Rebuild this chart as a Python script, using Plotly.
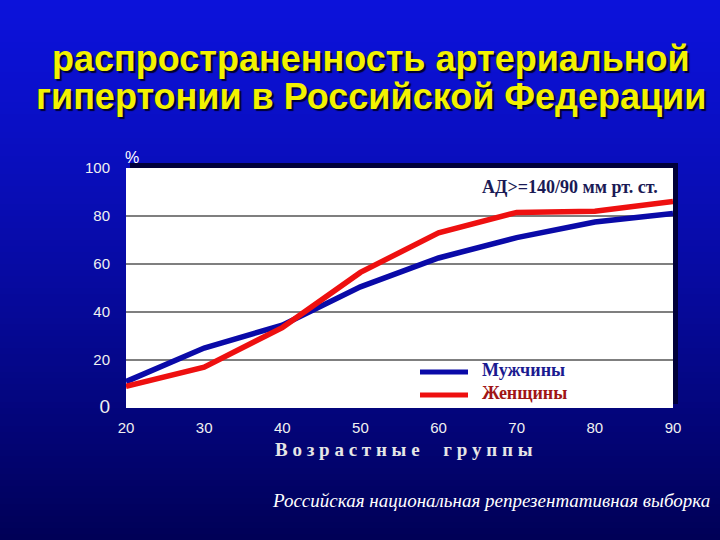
import plotly.graph_objects as go

# ---- data ----
age_groups = [20, 30, 40, 50, 60, 70, 80, 90]
men = [11, 25, 34.5, 50.5, 62.5, 71, 77.5, 81]
women = [9, 17, 33.5, 56.5, 73, 81.5, 82, 86]
y_ticks = [0, 20, 40, 60, 80, 100]
grid_vals = [20, 40, 60, 80]

W, H = 720, 540
L, R, T, B = 126, 47, 168, 132
PW, PH = W - L - R, H - T - B


def px(xp):
    return (xp - L) / PW


def py(yp):
    return (H - B - yp) / PH


def lerp(a, b, t):
    return int(round(a + (b - a) * t))


shapes = []
# background gradient
n = 90
top_c = (12, 18, 218)
bot_c = (0, 0, 86)
for i in range(n):
    y0p = H * i / n
    y1p = H * (i + 1) / n + 1
    t = ((i + 0.5) / n) ** 1.25
    c = tuple(lerp(top_c[k], bot_c[k], t) for k in range(3))
    shapes.append(dict(type="rect", xref="paper", yref="paper", layer="below",
                       x0=px(-5), x1=px(W + 5), y0=py(y1p), y1=py(y0p),
                       line=dict(width=0), fillcolor="rgb(%d,%d,%d)" % c))
# plot shadow and white plot area
shapes.append(dict(type="rect", xref="paper", yref="paper", layer="below",
                   x0=px(L + 4), x1=px(L + PW + 5), y0=py(T + PH - 4), y1=py(T - 5),
                   line=dict(width=0), fillcolor="#00003a"))
shapes.append(dict(type="rect", xref="paper", yref="paper", layer="below",
                   x0=0, x1=1, y0=0, y1=1, line=dict(width=0), fillcolor="white"))
for g in grid_vals:
    shapes.append(dict(type="line", xref="paper", yref="y", layer="below",
                       x0=0, x1=1, y0=g, y1=g, line=dict(color="black", width=1.2)))
# legend swatches
shapes.append(dict(type="line", xref="paper", yref="paper", x0=px(420), x1=px(468),
                   y0=py(372), y1=py(372), line=dict(color="#0a0aa8", width=5)))
shapes.append(dict(type="line", xref="paper", yref="paper", x0=px(420), x1=px(468),
                   y0=py(395), y1=py(395), line=dict(color="#ee1010", width=5)))

fig = go.Figure()
fig.add_trace(go.Scatter(x=age_groups, y=men, mode="lines", name="Мужчины",
                         line=dict(color="#0a0aa8", width=5.5)))
fig.add_trace(go.Scatter(x=age_groups, y=women, mode="lines", name="Женщины",
                         line=dict(color="#ee1010", width=5.5)))

y_ticktext = ["<span style='font-size:19px'>0</span>"] + [str(v) for v in y_ticks[1:]]

SERIF = "Liberation Serif, Times New Roman"
SANS = "Liberation Sans, Arial"


def ann(text, x, y, xanchor, font):
    return dict(text=text, xref="paper", yref="paper", x=px(x), y=py(y),
                xanchor=xanchor, yanchor="middle", showarrow=False, font=font)


title_font = dict(family=SANS, size=36, color="#f2f200", weight="bold",
                  shadow="2px 2px 1px #000030")
annotations = [
    ann("распространенность артериальной", 371, 58, "center", title_font),
    ann("гипертонии в Российской Федерации", 371, 97, "center", title_font),
    ann("%", 132, 158, "center", dict(family=SANS, size=16, color="white")),
    ann("АД>=140/90 мм рт. ст.", 660, 187, "right",
        dict(family=SERIF, size=18, color="#1a1a55", weight="bold")),
    ann("Мужчины", 480, 370, "left", dict(family=SERIF, size=18, color="#1a1a90", weight="bold")),
    ann("Женщины", 480, 393, "left", dict(family=SERIF, size=18, color="#a01515", weight="bold")),
    ann("В о з р а с т н ы е &nbsp; &nbsp; г р у п п ы", 404, 449, "center",
        dict(family=SERIF, size=19, color="#e6e6e6", weight="bold")),
    ann("Российская национальная репрезентативная выборка", 712, 500, "right",
        dict(family=SERIF, size=19, color="white", style="italic")),
]

fig.update_layout(
    width=W, height=H,
    margin=dict(l=L, r=R, t=T, b=B),
    paper_bgcolor="#0000a0",
    plot_bgcolor="rgba(0,0,0,0)",
    showlegend=False,
    shapes=shapes,
    annotations=annotations,
    xaxis=dict(range=[20, 90], tickvals=age_groups, showgrid=False, zeroline=False,
               showline=False, ticks="outside", ticklen=6, tickcolor="rgba(0,0,0,0)",
               tickfont=dict(family=SANS, size=15, color="#f0f0f0")),
    yaxis=dict(range=[0, 100], tickvals=y_ticks, ticktext=y_ticktext, showgrid=False,
               zeroline=False, showline=False, ticks="outside", ticklen=12,
               tickcolor="rgba(0,0,0,0)",
               tickfont=dict(family=SANS, size=15, color="#f0f0f0")),
)

fig.write_html("out.html", config={"displayModeBar": False},
               post_script="document.body.style.margin='0';document.body.style.overflow='hidden';")
